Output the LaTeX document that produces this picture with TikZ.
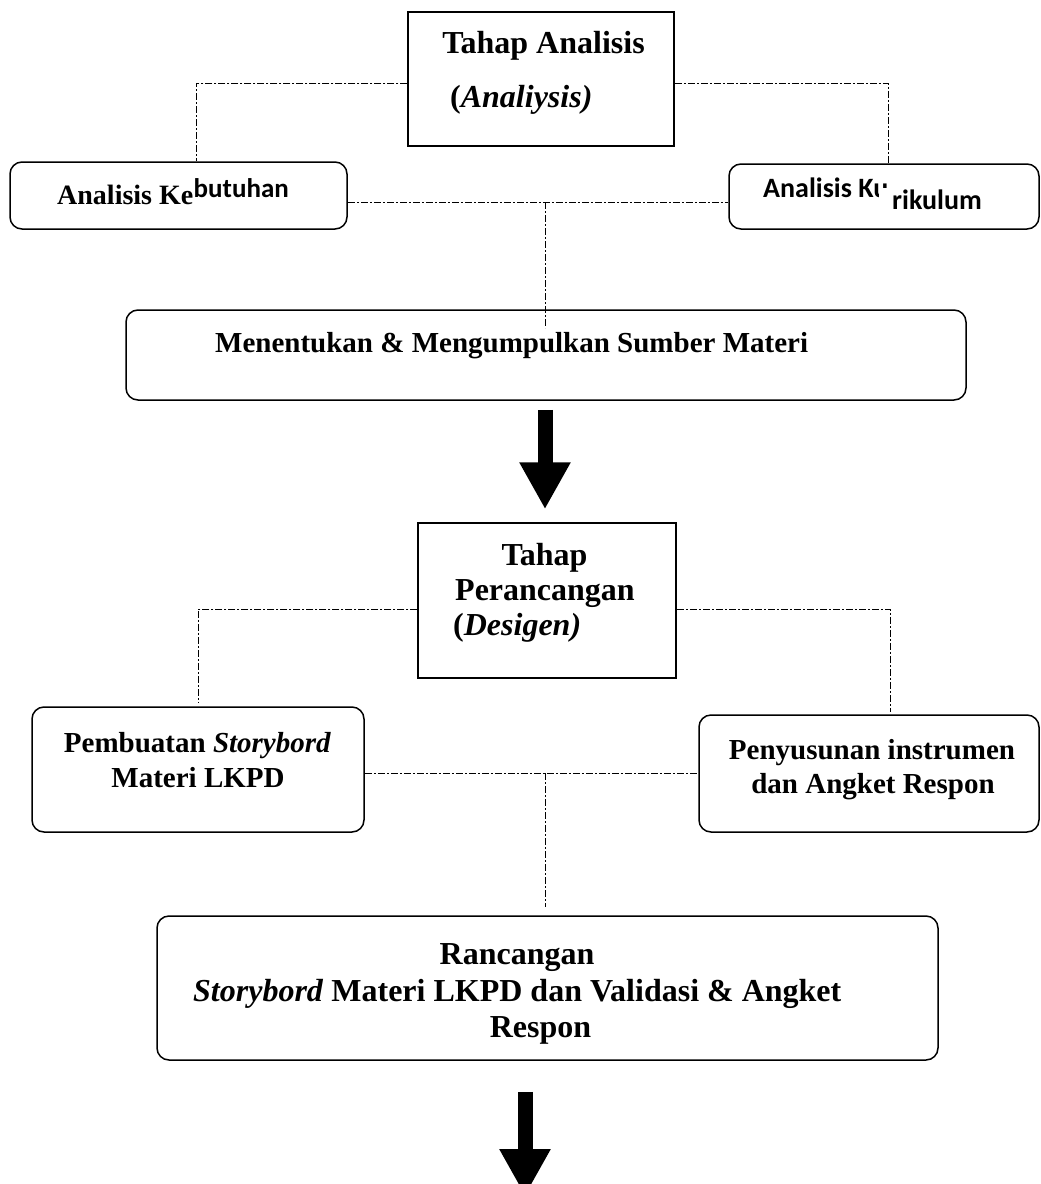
\documentclass[tikz,border=0pt]{standalone}
\usepackage{fontspec}
\setmainfont{Liberation Serif}
\newfontfamily\sansb{Carlito}
\usetikzlibrary{arrows.meta}
\tikzset{
  sq/.style={draw, line width=1.5pt, rectangle, inner sep=0pt},
  rbox/.style={draw, line width=1.5pt, rectangle, rounded corners=12pt, inner sep=0pt},
  dd/.style={line width=1pt, dash pattern=on 7pt off 2pt on 2pt off 2pt},
  txt/.style={inner sep=0pt, anchor=base, font=\fontsize{29}{34}\selectfont\bfseries},
  btxt/.style={inner sep=0pt, anchor=base, font=\fontsize{32}{37}\selectfont\bfseries},
  stxt/.style={inner sep=0pt, anchor=base west, font=\fontsize{28}{32}\selectfont\sansb\bfseries},
  bigarrow/.style={line width=15pt, -{Triangle[length=47pt,width=48pt]}}
}
\begin{document}
\begin{tikzpicture}[x=1pt,y=-1pt]
\useasboundingbox (0,0) rectangle (1041,1184);
% boxes
\node[sq, minimum width=266pt, minimum height=134pt] (ta) at (541,79) {};
\node[rbox, minimum width=337pt, minimum height=67pt] (kb) at (178.5,195.5) {};
\node[rbox, minimum width=310pt, minimum height=65pt] (kr) at (884,196.5) {};
\node[rbox, minimum width=840pt, minimum height=90pt] (mm) at (546,355) {};
\node[sq, minimum width=258pt, minimum height=155pt] (tp) at (547,600.5) {};
\node[rbox, minimum width=332pt, minimum height=125pt] (ps) at (198,769.5) {};
\node[rbox, minimum width=340pt, minimum height=117pt] (pi) at (869,773.5) {};
\node[rbox, minimum width=781pt, minimum height=144pt] (rc) at (547.5,988) {};
% texts
\node[btxt] (t1) at (543.5,53) {Tahap Analisis};
\node[btxt, anchor=base west] (t2) at (450,107) {(\textit{Analiysis)}};
\node[txt, anchor=base west, font=\fontsize{28}{32}\selectfont\bfseries] (t3) at (57,204) {Analisis Ke};
\node[stxt, font=\fontsize{27}{31}\selectfont\sansb\bfseries] (t4) at ([yshift=7pt]t3.base east) {butuhan};
\node[stxt] (t5) at (763,197) {Analisis Ku};
\node[stxt, fill=white, inner xsep=0pt, inner ysep=1pt] (t6) at (879,209) {\hspace{13pt}rikulum};
\node[txt, anchor=base west] (t7) at (215,352) {Menentukan \& Mengumpulkan Sumber Materi};
\node[btxt] (t8) at (544.5,565) {Tahap};
\node[btxt, anchor=base west] (t9) at (455,600) {Perancangan};
\node[btxt, anchor=base west] (t10) at (453,635) {(\textit{Desigen)}};
\node[txt] (t11) at (197.5,752) {Pembuatan \textit{Storybord}};
\node[txt] (t12) at (198,787) {Materi LKPD};
\node[txt] (t13) at (872,759) {Penyusunan instrumen};
\node[txt] (t14) at (873,793) {dan Angket Respon};
\node[btxt] (t15) at (517,964) {Rancangan};
\node[btxt, anchor=base west] (t16) at (193,1001) {\textit{Storybord} Materi LKPD dan Validasi \& Angket};
\node[btxt] (t17) at (540.5,1037) {Respon};
% connectors stage 1
\draw[dd] ([yshift=-4pt]ta.west) -| ([xshift=18pt]kb.north);
\draw[dd] ([yshift=-4pt]ta.east) -| ([xshift=4pt]kr.north);
\coordinate (j1) at (545,202);
\coordinate (j1e) at (545,328);
\draw[dd] (kb.east |- j1) -- (kr.west |- j1);
\draw[dd] (j1) -- (j1e);
% connectors stage 2
\draw[dd] ([yshift=-8.5pt]tp.west) -| ([yshift=3pt]ps.north);
\draw[dd] ([yshift=-8.5pt]tp.east) -| ([xshift=21pt,yshift=2pt]pi.north);
\coordinate (j2) at (545,773);
\coordinate (j2e) at (545,907);
\draw[dd] (ps.east |- j2) -- (pi.west |- j2);
\draw[dd] (j2) -- (j2e);
% arrows
\draw[bigarrow, shorten <=9pt, shorten >=13pt] (mm.south -| 545,0) -- (tp.north -| 545,0);
\coordinate (a2e) at (525,1196);
\draw[bigarrow, shorten <=31pt] (rc.south -| a2e) -- (a2e);
\end{tikzpicture}
\end{document}
